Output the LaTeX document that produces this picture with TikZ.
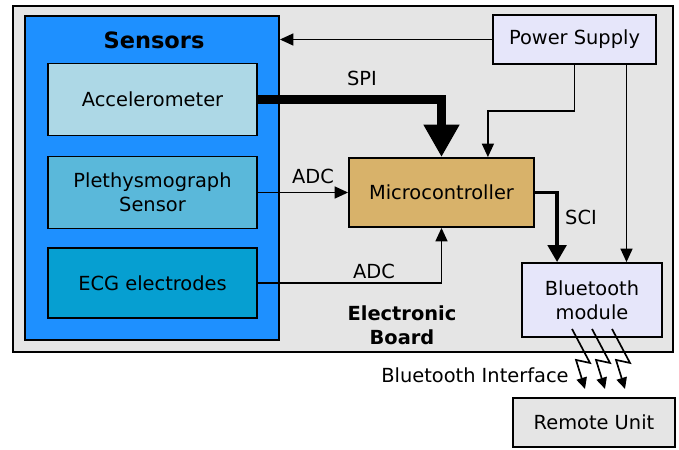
\documentclass[tikz,border=0pt]{standalone}
\usepackage{fontspec}
\setmainfont{DejaVu Sans}
\usetikzlibrary{positioning,arrows.meta,calc}

\definecolor{boardgray}{HTML}{E5E5E5}
\definecolor{sensorblue}{HTML}{1E90FF}
\definecolor{accblue}{HTML}{ADD8E6}
\definecolor{plethblue}{HTML}{5AB8DA}
\definecolor{ecgblue}{HTML}{069FD1}
\definecolor{microtan}{HTML}{D8B26A}
\definecolor{lavend}{HTML}{E6E6FA}

\begin{document}
\begin{tikzpicture}[
    x=0.025cm, y=-0.025cm,
    font=\fontsize{13.8}{17}\selectfont,
    block/.style={rectangle, draw, line width=1.3pt, minimum width=5.225cm, minimum height=1.8cm, align=center},
    arrow/.style={-{Triangle[length=9.5pt, width=8.5pt]}, line width=1pt},
    bigarrow/.style={-{Triangle[length=23pt, width=24pt]}, line width=7pt},
    busarrow/.style={-{Triangle[length=12pt, width=13pt]}, line width=2.8pt},
    zap/.style={-{Triangle[length=8pt, width=7.5pt]}, line width=1.2pt},
    label/.style={font=\fontsize{13.8}{17}\selectfont}
]
\useasboundingbox (0,0) rectangle (679,449);

% Board and sensor group
\node[block, fill=boardgray, minimum width=16.5cm, minimum height=8.65cm] (board) at (343,179) {};
\node[block, fill=sensorblue, minimum width=6.35cm, minimum height=8.1cm] (sensors) at (152,178) {};
\node[font=\fontsize{16}{19}\selectfont\bfseries] (senstitle) at (154,40) {Sensors};

\node[block, fill=accblue] (acc) at (152.5,99.5) {Accelerometer};
\node[block, fill=plethblue] (pleth) at (152.5,192.5) {Plethysmograph\\Sensor};
\node[block, fill=ecgblue, minimum height=1.75cm] (ecg) at (152.5,283) {ECG electrodes};

% Processing and power
\node[block, fill=microtan, minimum width=4.625cm, minimum height=1.725cm] (micro) at (441.5,192.5) {Microcontroller};
\node[block, fill=lavend, minimum width=4.075cm, minimum height=1.225cm] (power) at (574.5,39.5) {Power Supply};
\node[block, fill=lavend, minimum width=3.5cm, minimum height=1.85cm] (bt) at (592,300) {Bluetooth\\module};
\node[font=\fontsize{13.8}{17}\selectfont\bfseries, align=center] (boardlabel) at (402,325) {Electronic\\Board};

% Outside the board
\node[block, fill=boardgray, minimum width=4.05cm, minimum height=1.225cm] (remote) at (594,422.5) {Remote Unit};
\node[label] (btif) at (475,375) {Bluetooth Interface};

% Buses
\draw[bigarrow] (acc.east) -| (micro.north);
\node[label] (spi) at (362,78) {SPI};
\draw[arrow] (pleth.east) -- (micro.west);
\node[label] (adc1) at (313,176) {ADC};
\draw[arrow] (ecg.east) -| (micro.south);
\node[label] (adc2) at (374,271) {ADC};
\draw[busarrow] (micro.east) -| ([xshift=0.9cm]bt.north west);
\node[label] (sci) at (581,217) {SCI};

% Power lines
\draw[arrow] (power.west) -- (power.west -| sensors.east);
\draw[arrow] (power.south) -- ++(0,46) -| ([xshift=1.16cm]micro.north);
\coordinate (psright) at ([xshift=1.3cm]power.south);
\draw[arrow] (psright) -- (psright |- bt.north);

% Wireless link
\foreach \i in {0,1,2}
    \draw[zap] ([shift={(\i*20-20,-9)}]bt.south) -- ++(18,34) -- ++(-14,-3) -- ++(9,29);

\end{tikzpicture}
\end{document}
